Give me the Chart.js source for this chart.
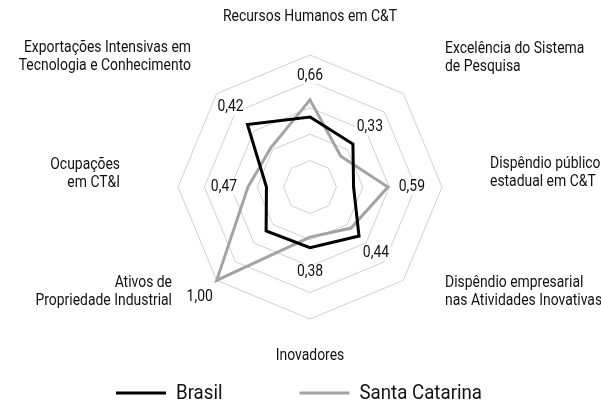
<!DOCTYPE html>
<html>
<head>
<meta charset="utf-8">
<script src="https://cdn.jsdelivr.net/npm/chart.js@4.4.1/dist/chart.umd.min.js"></script>
<style>
    html, body { margin: 0; padding: 0; background: #fff; }
</style>
</head>
<body>
<canvas id="radarChart" width="601" height="406"></canvas>
<script>
// Data
const categories = [
    ['Recursos Humanos em C&T'],
    ['Excelência do Sistema', 'de Pesquisa'],
    ['Dispêndio público', 'estadual em C&T'],
    ['Dispêndio empresarial', 'nas Atividades Inovativas'],
    ['Inovadores'],
    ['Ativos de', 'Propriedade Industrial'],
    ['Ocupações', 'em CT&I'],
    ['Exportações Intensivas em', 'Tecnologia e Conhecimento']
];
const brasil = [0.53, 0.46, 0.33, 0.525, 0.46, 0.47, 0.33, 0.67];
const santaCatarina = [0.66, 0.33, 0.59, 0.44, 0.38, 1.00, 0.47, 0.42];
const tickValues = [0.2, 0.4, 0.6, 0.8, 1.0];

// Layout of the axis labels, relative to the centre of the radar
const labelLayout = [
    { dx: 0, dy: -170, align: 'center' },
    { dx: 135, dy: -129, align: 'left' },
    { dx: 180, dy: -14, align: 'left' },
    { dx: 135, dy: 105, align: 'left' },
    { dx: 0, dy: 169, align: 'center' },
    { dx: -138, dy: 105, align: 'right' },
    { dx: -190, dy: -13, align: 'right' },
    { dx: -119, dy: -130, align: 'right' }
];

const fontFamily = 'Roboto, "Liberation Sans", sans-serif';
const condense = 0.87; // the original uses a condensed face
const textColor = '#111';
const lineH = 18;

// draw text squeezed horizontally, returns drawn width
function narrowText(ctx, txt, x, y, align, sx) {
    sx = sx || condense;
    const w = ctx.measureText(txt).width * sx;
    let left = x;
    if (align === 'center') left = x - w / 2;
    if (align === 'right') left = x - w;
    ctx.save();
    ctx.translate(left, y);
    ctx.scale(sx, 1);
    ctx.textAlign = 'left';
    ctx.fillText(txt, 0, 0);
    ctx.restore();
    return w;
}

const radarText = {
    id: 'radarText',
    afterDatasetsDraw(chart) {
        const ctx = chart.ctx;
        const r = chart.scales.r;
        ctx.save();
        ctx.textBaseline = 'middle';

        // value labels (Santa Catarina)
        ctx.font = '16px ' + fontFamily;
        santaCatarina.forEach((v, i) => {
            const reach = Math.max(v, brasil[i]);
            const p = r.getPointPosition(i, r.getDistanceFromCenterForValue(reach) + 24);
            const txt = v.toFixed(2).replace('.', ',');
            const w = ctx.measureText(txt).width * condense;
            ctx.fillStyle = '#fff';
            ctx.fillRect(p.x - w / 2 - 2, p.y - 8, w + 4, 16);
            ctx.fillStyle = textColor;
            narrowText(ctx, txt, p.x, p.y, 'center');
        });

        // axis labels
        categories.forEach((lines, i) => {
            const lay = labelLayout[i];
            const top = r.yCenter + lay.dy - (lines.length - 1) * lineH / 2;
            lines.forEach((ln, k) => {
                narrowText(ctx, ln, r.xCenter + lay.dx, top + k * lineH, lay.align);
            });
        });

        // legend
        ctx.font = '21px ' + fontFamily;
        const legendY = 393;
        let x = 116;
        chart.data.datasets.forEach((ds) => {
            ctx.strokeStyle = ds.borderColor;
            ctx.lineWidth = 3;
            ctx.beginPath();
            ctx.moveTo(x, legendY);
            ctx.lineTo(x + 50, legendY);
            ctx.stroke();
            ctx.fillStyle = textColor;
            const w = narrowText(ctx, ds.label, x + 60, legendY + 1, 'left', 0.89);
            x += 60 + w + 77;
        });
        ctx.restore();
    }
};

new Chart(document.getElementById('radarChart'), {
    type: 'radar',
    data: {
        labels: categories,
        datasets: [{
            label: 'Brasil',
            data: brasil,
            borderColor: '#000000',
            borderWidth: 3,
            pointRadius: 0,
            fill: false,
            tension: 0
        }, {
            label: 'Santa Catarina',
            data: santaCatarina,
            borderColor: '#a3a3a3',
            borderWidth: 3,
            pointRadius: 0,
            fill: false,
            tension: 0
        }]
    },
    options: {
        responsive: false,
        animation: false,
        layout: { padding: { top: 55, bottom: 87, left: 20, right: 0 } },
        plugins: {
            legend: { display: false },
            tooltip: { enabled: false }
        },
        scales: {
            r: {
                min: 0,
                max: 1,
                afterBuildTicks: (scale) => {
                    scale.ticks = [{ value: 0 }].concat(tickValues.map(v => ({ value: v })));
                },
                ticks: { display: false },
                angleLines: { display: false },
                pointLabels: { display: false },
                grid: { color: '#d0d0d0', lineWidth: 1 }
            }
        }
    },
    plugins: [radarText]
});
</script>
</body>
</html>
